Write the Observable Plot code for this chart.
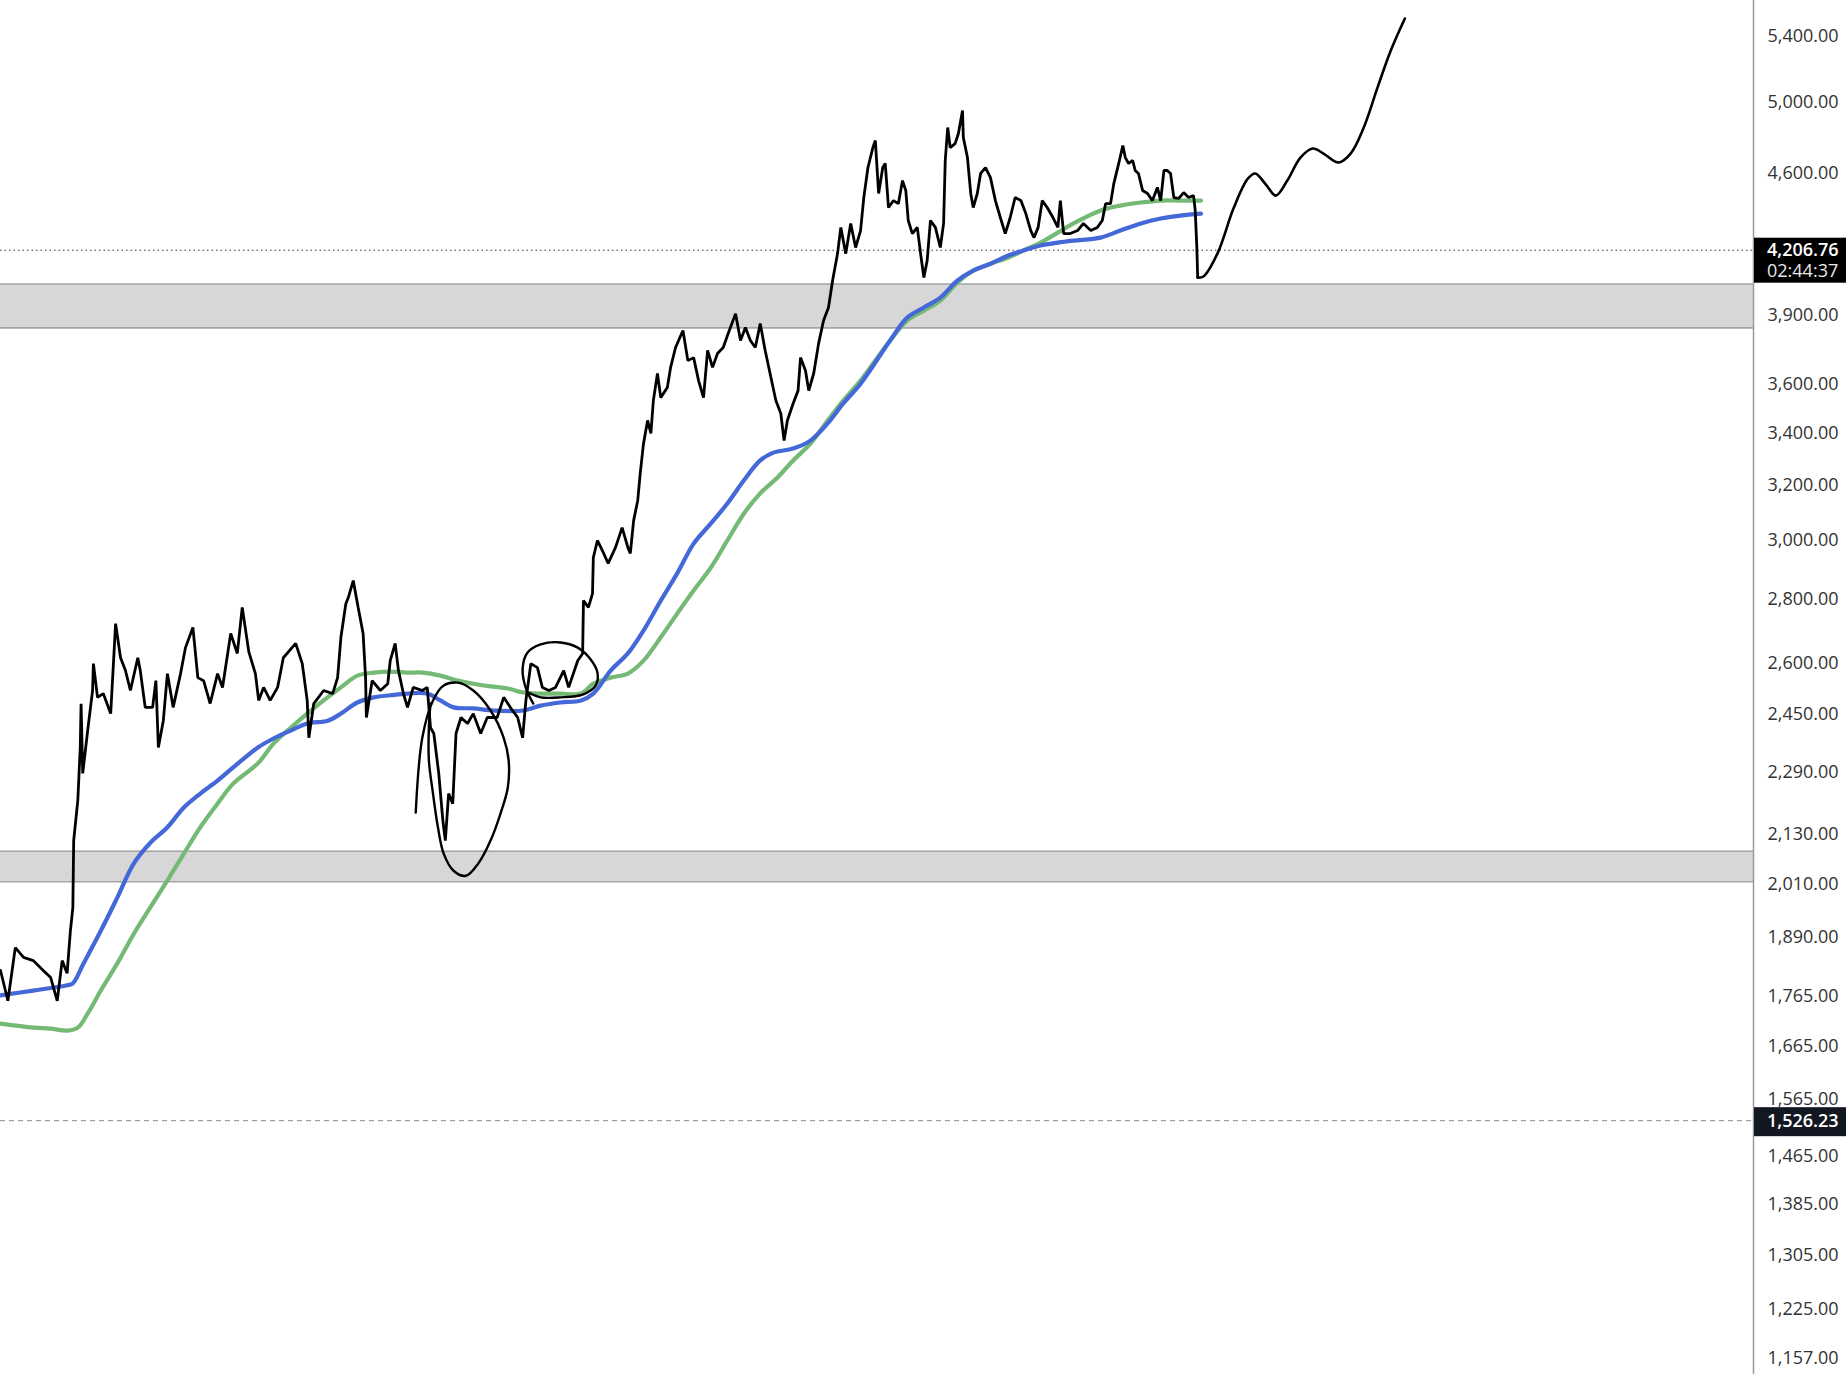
<!DOCTYPE html>
<html>
<head>
<meta charset="utf-8">
<script src="https://cdn.jsdelivr.net/npm/d3@7"></script>
<script src="https://cdn.jsdelivr.net/npm/@observablehq/plot@0.6"></script>
<style>
  html, body { margin: 0; padding: 0; background: #fff; overflow: hidden; }
  #chart svg { display: block; }
</style>
</head>
<body>
<div id="chart"></div>
<script>
// ---- data: [day since start, price] ----
const price = [
  [0.0,1818],[0.9,1755],[1.8,1867],[2.8,1846],[4.0,1839],[5.2,1818],[6.1,1803],[6.9,1755],[7.5,1839],[8.1,1812],
  [8.5,1904],[8.8,1956],[8.9,2115],[9.4,2216],[9.7,2357],[9.8,2480],[10.0,2287],[10.6,2404],[11.2,2519],[11.3,2599],
  [11.8,2499],[12.5,2510],[13.4,2452],[14.0,2723],[14.6,2617],[15.2,2578],[15.8,2519],[16.7,2617],[17.0,2578],[17.6,2470],
  [18.5,2470],[18.9,2548],[19.2,2357],[19.8,2432],[20.3,2569],[21.0,2470],[21.9,2569],[22.5,2648],[23.4,2711],[24.0,2557],
  [24.7,2548],[25.5,2481],[26.4,2569],[27.0,2528],[28.0,2692],[28.8,2630],[29.4,2775],[30.2,2635],[31.0,2569],[31.4,2490],
  [32.0,2528],[32.8,2490],[33.7,2528],[34.4,2617],[35.9,2661],[36.7,2599],[37.3,2490],[37.5,2384],[38.1,2481],[39.3,2519],
  [40.4,2510],[41.0,2557],[41.4,2680],[42.0,2787],[42.3,2807],[42.9,2863],[43.5,2775],[44.1,2692],[44.4,2557],[44.5,2441],
  [45.2,2548],[46.2,2519],[47.1,2539],[47.4,2608],[48.0,2661],[48.4,2578],[49.0,2510],[49.5,2470],[50.2,2528],[51.3,2519],
  [51.9,2528],[52.3,2412],[52.7,2396],[53.3,2287],[53.8,2165],[54.1,2115],[54.5,2234],[55.0,2208],[55.4,2396],[56.0,2441],
  [56.8,2424],[57.5,2452],[58.4,2396],[59.2,2441],[60.4,2441],[61.2,2499],[62.0,2470],[62.9,2441],[63.5,2384],[63.9,2490],
  [64.5,2599],[65.3,2587],[65.9,2528],[66.7,2519],[67.5,2528],[68.5,2578],[69.1,2528],[70.2,2608],[70.8,2630],[70.9,2797],
  [71.5,2775],[72.0,2820],[72.1,2941],[72.6,3000],[73.2,2965],[73.9,2921],[74.8,2976],[75.6,3045],[76.3,2976],[76.6,2955],
  [77.0,3070],[77.5,3143],[77.8,3243],[78.2,3358],[78.7,3450],[79.1,3398],[79.4,3531],[79.9,3644],[80.3,3543],[81.1,3585],
  [81.5,3670],[82.1,3756],[83.0,3831],[83.6,3699],[84.3,3712],[84.9,3614],[85.5,3543],[86.0,3743],[86.6,3670],[87.2,3730],
  [87.9,3756],[88.5,3818],[89.4,3907],[90.0,3787],[90.6,3845],[91.2,3787],[91.8,3756],[92.4,3862],[93.0,3743],[93.7,3627],
  [94.3,3531],[94.9,3478],[95.3,3370],[95.7,3450],[96.4,3519],[97.0,3572],[97.3,3712],[97.9,3657],[98.3,3572],[98.9,3644],
  [99.5,3774],[100.1,3876],[100.7,3935],[101.2,4061],[101.8,4190],[102.2,4320],[102.8,4190],[103.4,4340],[104.0,4220],[104.6,4304],
  [105.0,4475],[105.5,4632],[106.1,4741],[106.4,4780],[106.8,4494],[107.3,4632],[107.6,4654],[108.0,4421],[108.6,4457],[109.2,4441],
  [109.7,4562],[110.1,4510],[110.4,4355],[110.9,4289],[111.5,4320],[111.9,4190],[112.3,4075],[112.7,4156],[113.1,4355],[113.7,4320],
  [114.3,4220],[114.7,4340],[114.9,4670],[115.2,4853],[115.5,4741],[116.1,4763],[116.5,4819],[117.0,4950],[117.1,4797],[117.6,4686],
  [118.0,4494],[118.3,4421],[118.8,4494],[119.2,4600],[119.8,4632],[120.4,4578],[121.0,4457],[121.6,4370],[122.2,4289],[122.8,4370],
  [123.4,4473],[124.1,4457],[124.7,4390],[125.3,4304],[125.7,4269],[126.2,4320],[126.7,4457],[127.3,4421],[128.0,4370],[128.6,4320],
  [128.9,4457],[129.3,4289],[130.1,4289],[131.0,4304],[131.7,4340],[132.6,4304],[133.4,4320],[134.0,4355],[134.4,4441],[135.0,4441],
  [135.4,4546],[136.0,4654],[136.5,4752],[136.8,4686],[137.2,4654],[137.7,4670],[138.0,4616],[138.4,4600],[138.9,4510],[139.5,4494],
  [140.1,4457],[140.7,4526],[141.1,4457],[141.5,4616],[141.9,4616],[142.3,4600],[142.7,4473],[143.3,4468],[143.9,4499],[144.5,4473],
  [145.1,4483],[145.3,4406],[145.5,4220],[145.6,4075]
];
const projection = [
  [145.6,4075],[146.3,4080],[148.0,4190],[150.0,4421],[151.7,4572],[152.6,4600],[153.9,4541],[155.1,4483],[156.5,4562],
  [158.1,4686],[159.6,4736],[160.9,4708],[162.7,4659],[164.2,4708],[165.8,4853],[167.5,5088],[169.1,5310],[170.8,5510]
];
const maBlue = [
  [0,1766],[4.0,1776],[8.1,1787],[8.8,1791],[10.1,1833],[12.2,1904],[14.2,1979],[16.2,2059],[18.2,2109],[20.3,2148],
  [22.3,2198],[24.3,2234],[26.4,2268],[28.3,2303],[31.3,2357],[33.2,2382],[35.3,2404],[37.3,2424],[39.8,2432],[41.4,2452],
  [43.4,2484],[45.4,2499],[47.4,2505],[49.5,2510],[51.9,2510],[53.5,2490],[55.1,2470],[57.5,2467],[60.0,2461],[63.6,2461],
  [65.7,2475],[68.1,2484],[70.6,2490],[72.1,2510],[74.2,2578],[76.3,2630],[78.2,2701],[80.3,2797],[82.3,2887],[84.3,2989],
  [86.4,3060],[88.4,3132],[90.4,3217],[92.4,3293],[94.0,3323],[96.4,3339],[98.5,3370],[100.6,3438],[102.5,3519],[104.6,3601],
  [108.2,3787],[110.3,3890],[112.3,3935],[114.3,3981],[116.4,4061],[118.3,4108],[120.4,4141],[122.5,4180],[124.4,4205],[126.5,4230],
  [128.6,4244],[130.5,4254],[133.8,4269],[136.2,4304],[138.7,4340],[141.1,4365],[143.5,4380],[146.0,4390]
];
const maGreen = [
  [0,1709],[4.0,1701],[6.1,1699],[8.1,1695],[9.4,1701],[10.6,1729],[12.2,1776],[14.2,1833],[16.2,1897],[18.2,1956],
  [20.3,2019],[22.3,2083],[24.3,2148],[26.4,2208],[28.3,2260],[31.3,2314],[33.2,2368],[35.3,2412],[37.3,2452],[39.3,2490],
  [41.4,2528],[43.4,2563],[45.4,2572],[47.4,2575],[49.5,2572],[51.4,2572],[53.5,2563],[55.6,2548],[57.5,2539],[59.6,2531],
  [61.7,2525],[63.6,2513],[65.7,2510],[68.1,2510],[70.6,2510],[72.1,2539],[74.2,2557],[76.3,2569],[78.2,2608],[80.3,2680],
  [82.3,2755],[84.3,2830],[86.4,2907],[88.4,3000],[90.4,3095],[92.4,3169],[94.5,3228],[96.4,3293],[98.5,3358],[100.6,3450],
  [102.5,3531],[104.6,3614],[108.2,3787],[110.3,3876],[112.3,3921],[114.3,3967],[116.4,4052],[118.3,4108],[120.4,4141],[122.5,4170],
  [124.4,4205],[126.5,4244],[128.6,4294],[130.5,4340],[133.8,4406],[136.2,4431],[138.7,4447],[141.1,4457],[143.5,4457],[146.0,4457]
];
// hand-drawn annotation loops
const loopA = [
  [50.5,2185],[51.3,2384],[52.6,2490],[53.9,2534],[55.6,2542],[57.5,2519],[59.6,2461],[61.2,2384],[61.8,2322],[61.7,2250],
  [60.8,2182],[59.6,2115],[58.1,2059],[56.6,2030],[55.1,2042],[53.9,2083],[53.2,2148],[52.6,2234],[52.1,2322],[52.1,2412],[52.3,2481]
];
const loopB = [
  [64.8,2481],[63.9,2525],[63.5,2584],[64.1,2633],[65.7,2658],[68.1,2664],[70.2,2648],[71.8,2611],[72.6,2572],[72.4,2534],
  [70.8,2507],[68.1,2499],[65.7,2499],[64.2,2513]
];
const zoneLo = [3843, 2016];
const zoneHi = [4044, 2089];
const yTicks = [5400,5000,4600,3900,3600,3400,3200,3000,2800,2600,2450,2290,2130,2010,1890,1765,1665,1565,1465,1385,1305,1225,1157];
const lastPrice = 4206.76;
const countdown = "02:44:37";
const refPrice = 1526.23;
const xDomain = [0, 213.2];
const yDomain = [1135.6, 5626.7];

// ---- build ----
const W = 1846, H = 1374, MR = 93;
const rows = arr => arr.map(([d, v]) => ({d, v}));
const zones = zoneLo.map((lo, i) => ({lo, hi: zoneHi[i]}));
const fmt = d3.format(",.2f");
const FONT = "'Open Sans', 'DejaVu Sans', sans-serif";

const chart = Plot.plot({
  width: W, height: H,
  marginLeft: 0, marginRight: MR, marginTop: 0, marginBottom: 0,
  style: {fontFamily: FONT, fontSize: "18px", background: "#fff", color: "#333", overflow: "visible"},
  x: {domain: xDomain, axis: null},
  y: {type: "log", domain: yDomain},
  marks: [
    Plot.rect(zones, {x1: xDomain[0], x2: xDomain[1], y1: "lo", y2: "hi", fill: "#d7d7d7"}),
    Plot.ruleY(zones, {y: "lo", stroke: "#a6a6a6", strokeWidth: 1.6}),
    Plot.ruleY(zones, {y: "hi", stroke: "#a6a6a6", strokeWidth: 1.6}),
    Plot.ruleY([refPrice], {stroke: "#8a8a8a", strokeWidth: 1, strokeDasharray: "5,4"}),
    Plot.ruleY([lastPrice], {stroke: "#333", strokeWidth: 1, strokeDasharray: "1.5,3"}),
    Plot.line(rows(maGreen), {x: "d", y: "v", stroke: "#74b974", strokeWidth: 4.2, curve: "catmull-rom"}),
    Plot.line(rows(maBlue), {x: "d", y: "v", stroke: "#4468d8", strokeWidth: 4.2, curve: "catmull-rom"}),
    Plot.line(rows(price), {x: "d", y: "v", stroke: "#000", strokeWidth: 2.8, strokeLinejoin: "miter"}),
    Plot.line(rows(projection), {x: "d", y: "v", stroke: "#000", strokeWidth: 2.6, curve: "catmull-rom"}),
    Plot.line(rows(loopA), {x: "d", y: "v", stroke: "#000", strokeWidth: 2.4, curve: "catmull-rom"}),
    Plot.line(rows(loopB), {x: "d", y: "v", stroke: "#000", strokeWidth: 2.4, curve: "catmull-rom"}),
    Plot.ruleX([xDomain[1]], {stroke: "#9a9a9a", strokeWidth: 1.5}),
    Plot.axisY(yTicks, {anchor: "right", tickSize: 0, tickPadding: 14, tickFormat: fmt,
      fontSize: 18, fill: "#333", label: null})
  ]
});

document.getElementById("chart").appendChild(chart);

// price tags on the axis, placed with the plot's own y scale
const ys = chart.scale("y");
const svg = d3.select(chart);
const axisX = W - MR;
const g = svg.append("g").attr("font-family", FONT).attr("font-size", 18).attr("text-anchor", "start");

const ly = ys.apply(lastPrice);
g.append("rect").attr("x", axisX + 1).attr("y", ly - 12).attr("width", MR - 1).attr("height", 45).attr("fill", "#000");
g.append("text").attr("x", axisX + 14).attr("y", ly).attr("dy", "0.35em").attr("fill", "#fff").attr("font-weight", 600).text(fmt(lastPrice));
g.append("text").attr("x", axisX + 14).attr("y", ly + 21).attr("dy", "0.35em").attr("fill", "#e8e8e8").attr("font-weight", 500).text(countdown);

const ry = ys.apply(refPrice);
g.append("rect").attr("x", axisX + 1).attr("y", ry - 13).attr("width", MR - 1).attr("height", 29).attr("fill", "#131722");
g.append("text").attr("x", axisX + 14).attr("y", ry + 1).attr("dy", "0.35em").attr("fill", "#fff").attr("font-weight", 600).text(fmt(refPrice));
</script>
</body>
</html>
